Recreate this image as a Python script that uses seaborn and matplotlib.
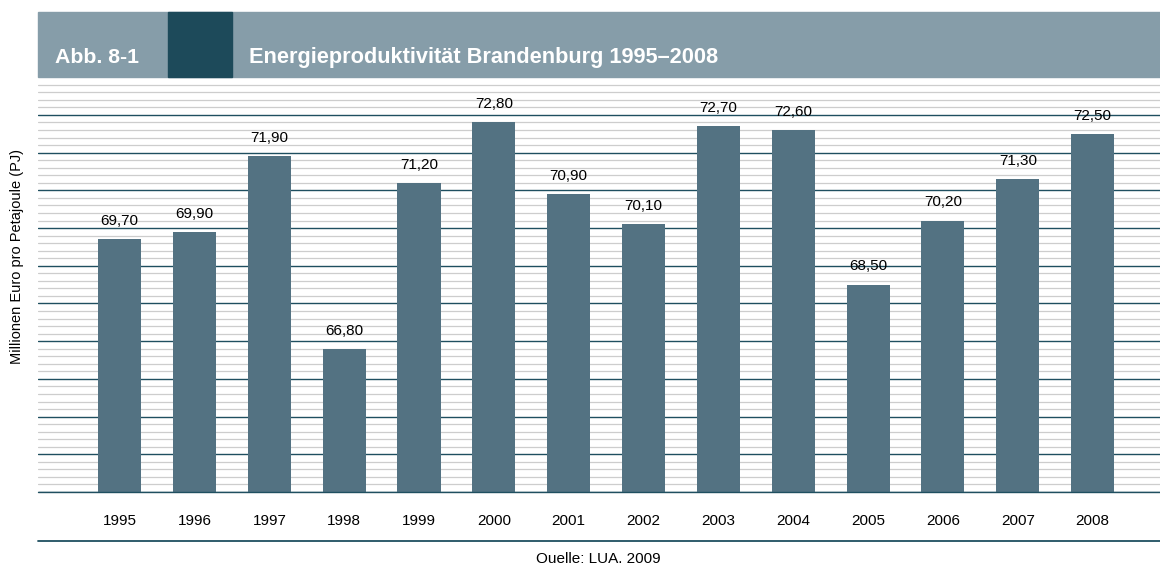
import numpy as np
import pandas as pd
import matplotlib.pyplot as plt
import seaborn as sns
from matplotlib.patches import Rectangle
from matplotlib.lines import Line2D
from matplotlib.ticker import MultipleLocator

# Daten
years = ["1995", "1996", "1997", "1998", "1999", "2000", "2001",
         "2002", "2003", "2004", "2005", "2006", "2007", "2008"]
values = [69.7, 69.9, 71.9, 66.8, 71.2, 72.8, 70.9,
          70.1, 72.7, 72.6, 68.5, 70.2, 71.3, 72.5]

df = pd.DataFrame({"Jahr": years, "Wert": values})

sns.set_style("white")
plt.rcParams['font.family'] = ['Liberation Sans', 'DejaVu Sans']
plt.rcParams['text.color'] = 'black'
plt.rcParams['xtick.color'] = 'black'

fig = plt.figure(figsize=(11.6, 5.63), dpi=100)
ax = fig.add_axes([0.0328, 0.1261, 0.9672, 0.7247])

sns.barplot(data=df, x="Jahr", y="Wert", color="#537282", saturation=1,
            width=0.575, linewidth=0, ax=ax, zorder=3)

ax.set_ylim(63, 73.82)
ax.set_xlim(-1.09, 13.9)
ax.yaxis.set_major_locator(MultipleLocator(1))
ax.yaxis.set_minor_locator(MultipleLocator(0.2))
ax.grid(which="minor", axis="y", color="#cdcdcd", linewidth=0.9, zorder=0)
ax.grid(which="major", axis="y", color="#1f4f60", linewidth=1.0, zorder=1)
ax.axhline(63, color="#1f4f60", linewidth=1.0, clip_on=False, zorder=4)
ax.set_axisbelow(True)
ax.tick_params(axis="y", which="both", left=False, labelleft=False)
ax.tick_params(axis="x", length=0, labelsize=11, pad=16, labelcolor="black")
ax.set_xlabel("")
ax.set_ylabel("")
for s in ax.spines.values():
    s.set_visible(False)

# Wertbeschriftungen
for c in ax.containers:
    ax.bar_label(c, labels=[f"{v:.2f}".replace(".", ",") for v in values],
                 padding=8, fontsize=11, color="black")

# Kopfzeile
fig.patches.append(Rectangle((0.0328, 0.8632), 0.9672, 0.1155,
                             transform=fig.transFigure, color="#869da9", zorder=0))
fig.patches.append(Rectangle((0.1448, 0.8632), 0.0552, 0.1155,
                             transform=fig.transFigure, color="#1d4a5a", zorder=1))
fig.text(0.047, 1 - 63 / 563, "Abb. 8-1", color="white", fontsize=15.3,
         fontweight="bold", va="baseline")
fig.text(0.2145, 1 - 63 / 563, "Energieproduktivität Brandenburg 1995–2008",
         color="white", fontsize=15.7, fontweight="bold", va="baseline")

fig.text(0.0147, 1 - 257 / 563, "Millionen Euro pro Petajoule (PJ)",
         rotation=90, va="center", ha="center", fontsize=10.5)

# Fußzeile
fig.lines.append(Line2D([0.0328, 1.0], [0.0391, 0.0391], transform=fig.transFigure,
                        color="#1f4f60", linewidth=1.3))
fig.text(0.516, 1 - 552 / 563, "Quelle: LUA, 2009", ha="center", va="top", fontsize=11)

plt.savefig("out.png", dpi=100)
